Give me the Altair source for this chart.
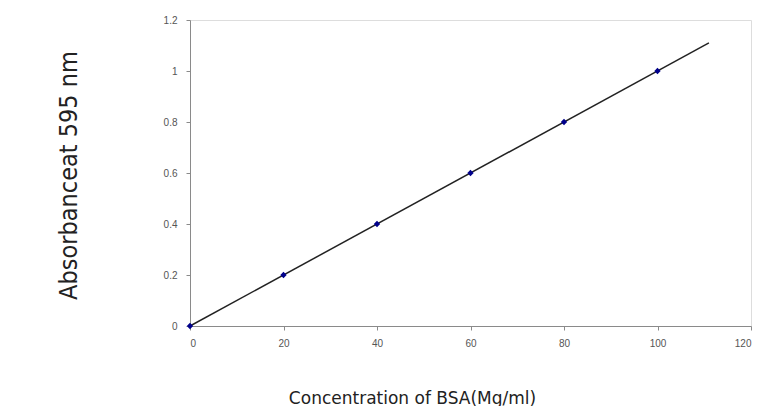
import altair as alt
import pandas as pd

conc = [0, 20, 40, 60, 80, 100]
absorb = [0, 0.2, 0.4, 0.6, 0.8, 1.0]
trend_x = [0, 111]
trend_y = [0, 1.11]

pts = pd.DataFrame({"x": conc, "y": absorb})
trend = pd.DataFrame({"x": trend_x, "y": trend_y})

xscale = alt.Scale(domain=[0, 120], nice=False, zero=False)
yscale = alt.Scale(domain=[0, 1.2], nice=False, zero=False)

xaxis = alt.Axis(
    title="Concentration of BSA(Mg/ml)", values=[0, 20, 40, 60, 80, 100, 120],
    grid=False, domainColor="#8a8a8a", tickColor="#8a8a8a", tickSize=4,
    labelFont="Liberation Sans", labelFontSize=10, labelColor="#555555", labelPadding=8,
    titleFont="DejaVu Sans", titleFontSize=17, titleFontWeight="normal", titleColor="#222222",
    titleX=222, titleY=72, titleAlign="center", titleBaseline="middle",
)
yaxis = alt.Axis(
    title="Absorbanceat 595 nm", values=[0, 0.2, 0.4, 0.6, 0.8, 1.0, 1.2], format="~g",
    grid=False, domainColor="#8a8a8a", tickColor="#8a8a8a", tickSize=4,
    labelFont="Liberation Sans", labelFontSize=10, labelColor="#555555", labelPadding=9,
    titleFont="DejaVu Sans Condensed, Liberation Sans", titleFontSize=25, titleFontWeight="normal",
    titleColor="#222222",
    titleX=-122, titleY=155, titleAngle=-90, titleAlign="center", titleBaseline="middle",
)

line = alt.Chart(trend).mark_line(color="#222222", strokeWidth=1.5).encode(
    x=alt.X("x:Q", scale=xscale, axis=xaxis),
    y=alt.Y("y:Q", scale=yscale, axis=yaxis),
)
points = alt.Chart(pts).mark_point(shape="diamond", filled=True, color="#00008B", size=40, opacity=1).encode(
    x=alt.X("x:Q", scale=xscale),
    y=alt.Y("y:Q", scale=yscale),
)

chart = (line + points).properties(
    width=561, height=306,
    autosize=alt.AutoSizeParams(type="none"),
    padding={"left": 182, "top": 12, "right": 4, "bottom": 80},
).configure_view(stroke=None).configure(background="white")

chart.save("out.html", embed_options={"renderer": "svg", "actions": False})
